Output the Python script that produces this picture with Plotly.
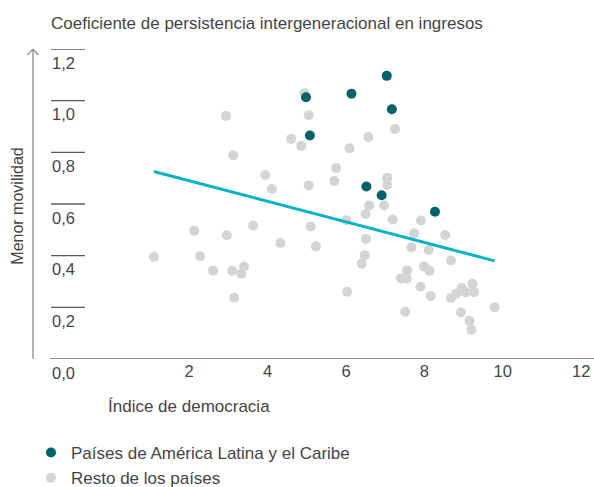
import plotly.graph_objects as go

# ---- data ----
lac_x = [4.98, 6.14, 7.04, 7.17, 5.08, 6.52, 6.91, 8.27]
lac_y = [1.013, 1.027, 1.096, 0.967, 0.865, 0.668, 0.634, 0.570]

rest_x = [4.94, 2.94, 5.05, 6.57, 4.60, 4.86, 6.09, 3.12, 5.75, 3.94,
          5.70, 4.11, 5.05, 7.25, 7.05, 7.05, 6.59, 6.97, 6.50, 7.19,
          6.01, 7.91, 7.74, 8.53, 6.51, 2.13, 2.96, 3.63, 5.10, 1.10,
          2.28, 4.33, 5.23, 6.48, 6.40, 2.61, 3.10, 3.40, 3.33, 3.15,
          6.03, 7.67, 8.11, 8.68, 7.56, 7.99, 8.13, 7.40, 7.55, 7.90,
          8.16, 8.68, 8.82, 8.95, 9.06, 9.23, 9.27, 7.51, 8.93, 9.15,
          9.20, 9.79]
rest_y = [1.029, 0.941, 0.944, 0.859, 0.852, 0.825, 0.816, 0.789, 0.739, 0.712,
          0.689, 0.658, 0.672, 0.890, 0.701, 0.674, 0.594, 0.594, 0.561, 0.540,
          0.537, 0.536, 0.487, 0.480, 0.465, 0.496, 0.479, 0.517, 0.513, 0.395,
          0.398, 0.449, 0.436, 0.402, 0.369, 0.342, 0.342, 0.358, 0.330, 0.237,
          0.260, 0.432, 0.422, 0.381, 0.343, 0.358, 0.342, 0.312, 0.311, 0.280,
          0.244, 0.236, 0.254, 0.275, 0.258, 0.291, 0.259, 0.183, 0.180, 0.148,
          0.113, 0.200]

trend_x = [1.10, 9.79]
trend_y = [0.726, 0.380]

x_ticks = [2, 4, 6, 8, 10, 12]
x_tick_labels = ["2", "4", "6", "8", "10", "12"]
y_ticks = [0.0, 0.2, 0.4, 0.6, 0.8, 1.0, 1.2]
y_tick_labels = ["0,0", "0,2", "0,4", "0,6", "0,8", "1,0", "1,2"]

title_text = "Coeficiente de persistencia intergeneracional en ingresos"
x_title = "Índice de democracia"
y_title = "Menor movilidad"
lac_name = "Países de América Latina y el Caribe"
rest_name = "Resto de los países"

# ---- style ----
FONT = "Liberation Sans, Arial, Helvetica, sans-serif"
TXT = "#444444"
TEAL = "#00636b"
GRAY = "#d4d4d6"
CYAN = "#00b5c3"
FS = 17

fig = go.Figure()
fig.add_trace(go.Scatter(x=rest_x, y=rest_y, mode="markers", name=rest_name,
                         marker=dict(color=GRAY, size=10), legendrank=2,
                         legendgroup="r"))
fig.add_trace(go.Scatter(x=trend_x, y=trend_y, mode="lines", showlegend=False,
                         line=dict(color=CYAN, width=3), hoverinfo="skip"))
fig.add_trace(go.Scatter(x=lac_x, y=lac_y, mode="markers", name=lac_name,
                         marker=dict(color=TEAL, size=10), legendrank=1,
                         legendgroup="l"))

W, H = 594, 487
L, R, T, B = 33, 0, 49, 128
pw = W - L - R
ph = H - T - B

def px_x(p):
    return (p - L) / pw

shapes = []
# x axis line
shapes.append(dict(type="line", xref="paper", yref="y", x0=px_x(50), x1=1, y0=0, y1=0,
                   line=dict(color="#6a6a6a", width=1.3), layer="above"))
# vertical arrow axis
shapes.append(dict(type="line", xref="paper", yref="y", x0=0, x1=0, y0=0, y1=1.2,
                   line=dict(color="#8c8c8c", width=1.3), layer="above"))
shapes.append(dict(type="path", xref="paper", yref="y", xsizemode="pixel", ysizemode="pixel",
                   xanchor=0, yanchor=1.2, path="M -5.5,-6 L 0,0 L 5.5,-6",
                   line=dict(color="#8c8c8c", width=1.2), layer="above"))
# short tick segments above y labels
for v in y_ticks[1:]:
    shapes.append(dict(type="line", xref="paper", yref="y", x0=px_x(51), x1=px_x(85),
                       y0=v, y1=v, line=dict(color="#5a5a5a", width=1.3), layer="above"))

fig.update_layout(
    width=W, height=H,
    margin=dict(l=L, r=R, t=T, b=B, autoexpand=False),
    paper_bgcolor="white", plot_bgcolor="white",
    font=dict(family=FONT, size=FS, color=TXT),
    title=dict(text=title_text, xref="container", yref="container",
               x=51 / W, xanchor="left", y=1 - 23 / H, yanchor="middle",
               font=dict(family=FONT, size=FS, color=TXT)),
    xaxis=dict(range=[-1.985, 12.327], tickvals=x_ticks, ticktext=x_tick_labels,
               showgrid=False, zeroline=False, showline=False, ticks="",
               automargin=False, tickfont=dict(size=16.5, color=TXT)),
    yaxis=dict(range=[0, 1.2], tickvals=y_ticks, ticktext=y_tick_labels,
               showgrid=False, zeroline=False, showline=False, ticks="",
               automargin=False,
               ticklabelposition="inside", ticklabelstandoff=16, ticklabelshift=14,
               ticklabeloverflow="allow", tickfont=dict(size=16.5, color=TXT)),
    shapes=shapes,
    showlegend=True,
    legend=dict(x=px_x(31), xanchor="left", xref="paper", y=1 - 435 / H, yref="container",
                yanchor="top", font=dict(size=FS, color=TXT), tracegroupgap=0,
                bgcolor="rgba(0,0,0,0)"),
    annotations=[
        dict(text=y_title, textangle=-90, xref="paper", yref="paper",
             x=px_x(18), y=(359.3 - 207) / ph, xanchor="center", yanchor="middle",
             showarrow=False, font=dict(size=16, color=TXT)),
        dict(text=x_title, xref="paper", yref="paper", x=px_x(106),
             y=-(407 - 359.3) / ph, xanchor="left", yanchor="middle",
             showarrow=False, font=dict(size=FS, color=TXT)),
    ],
)

fig.write_html("out.html", config={"displayModeBar": False},
               post_script="document.body.style.margin='0';")
